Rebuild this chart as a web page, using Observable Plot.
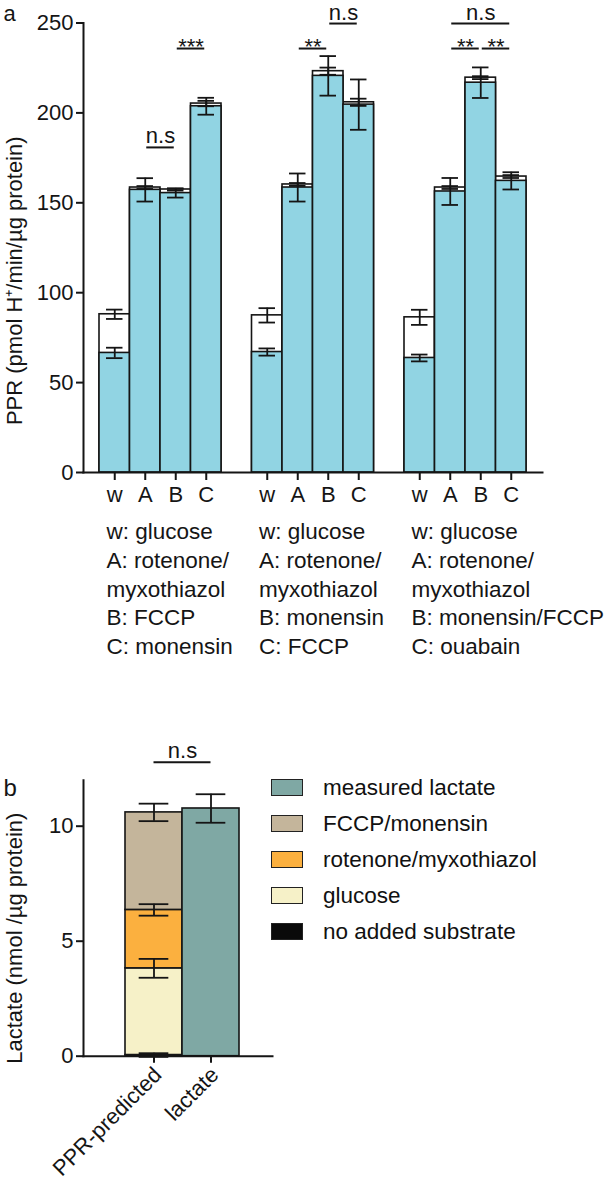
<!DOCTYPE html>
<html>
<head>
<meta charset="utf-8">
<script src="https://cdn.jsdelivr.net/npm/d3@7"></script>
<script src="https://cdn.jsdelivr.net/npm/@observablehq/plot@0.6"></script>
<style>
  html, body { margin: 0; padding: 0; background: #fff; }
  #root { position: relative; width: 606px; height: 1185px; overflow: hidden;
          font-family: "Liberation Sans", Arial, Helvetica, sans-serif; color: #111; }
  #pa { position: absolute; left: 0; top: 0; }
  #pb { position: absolute; left: 0; top: 730px; }
  .sw { position: absolute; left: 271px; width: 30px; height: 15px; border: 1.5px solid #222; }
  .lt { position: absolute; left: 323px; font-size: 22.5px; line-height: 18px; white-space: nowrap; }
</style>
</head>
<body>
<div id="root">
  <div id="pa"></div>
  <div id="pb"></div>
  <div id="legend"></div>
</div>
<script>
// ---------------- Panel a data ----------------
const groupNames = ["1", "2", "3"];
const barLetters = ["w", "A", "B", "C"];
// blue (lower) segment values, per group then letter
const blueValues  = [66.5, 157.2, 155.4, 203.7,   67.0, 158.5, 220.6, 204.6,   63.7, 156.3, 216.8, 162.2];
// total bar height (blue + white top)
const totalValues = [88.0, 158.5, 157.4, 205.2,   87.4, 160.2, 223.2, 205.9,   86.3, 158.5, 219.6, 164.6];
const blueErrors  = [2.9, 6.5, 2.5, 4.7,   2.0, 7.8, 11.0, 14.0,   1.9, 7.5, 8.5, 4.8];
const totalErrors = [2.6, 0.8, 0.6, 1.5,   4.0, 0.8, 2.0, 2.0,   4.2, 0.8, 0.8, 0.8];
const yTicksA = [0, 50, 100, 150, 200, 250];
const yTitleA = "PPR (pmol H\u207A/min/\u00B5g protein)";
const groupNotes = [
  "w: glucose\nA: rotenone/\nmyxothiazol\nB: FCCP\nC: monensin",
  "w: glucose\nA: rotenone/\nmyxothiazol\nB: monensin\nC: FCCP",
  "w: glucose\nA: rotenone/\nmyxothiazol\nB: monensin/FCCP\nC: ouabain"
];
const sigLabels = ["n.s", "***", "**", "n.s", "n.s", "**", "**"];
const sigStart  = ["1A", "1B", "2A", "2B", "3A", "3A", "3B"];
const sigEnd    = ["1B", "1C", "2B", "2C", "3C", "3B", "3C"];
const sigLevel  = [180.8, 235.8, 235.8, 249.7, 249.7, 235.8, 235.8];

// ---------------- Panel b data ----------------
const barNames = ["PPR-predicted", "lactate"];
const componentNames  = ["no added substrate", "glucose", "rotenone/myxothiazol", "FCCP/monensin"];
const componentValues = [0.05, 3.77, 2.54, 4.24];
const componentErrors = [0.08, 0.41, 0.25, 0.38];
const measuredName  = "measured lactate";
const measuredValue = 10.77;
const measuredError = 0.62;
const yTicksB = [0, 5, 10];
const yTitleB = "Lactate (nmol /\u00B5g protein)";
const sigBLabel = "n.s";
const sigBLevel = 12.78;
const legendOrder = ["measured lactate", "FCCP/monensin", "rotenone/myxothiazol", "glucose", "no added substrate"];

// ---------------- styling ----------------
const FONT = '"Liberation Sans", Arial, Helvetica, sans-serif';
const INK = "#151515";
const BLUE = "#91d4e3";
const colorOf = {
  "measured lactate": "#7fa8a4",
  "FCCP/monensin": "#c4b59b",
  "rotenone/myxothiazol": "#fbb03f",
  "glucose": "#f6f1c8",
  "no added substrate": "#0a0a0a"
};

function errorBars(data, x, y, e, half, sw = 1.8) {
  return [
    Plot.ruleX(data, {x, y1: d => y(d) - e(d), y2: d => y(d) + e(d), stroke: INK, strokeWidth: sw}),
    Plot.ruleY(data, {y: d => y(d) + e(d), x1: d => x(d) - half, x2: d => x(d) + half, stroke: INK, strokeWidth: sw}),
    Plot.ruleY(data, {y: d => y(d) - e(d), x1: d => x(d) - half, x2: d => x(d) + half, stroke: INK, strokeWidth: sw})
  ];
}

// ---------------- Panel a ----------------
const rowsA = [];
const posOf = {};
groupNames.forEach((g, gi) => barLetters.forEach((l, li) => {
  const k = gi * 4 + li;
  const pos = gi * (barLetters.length + 1) + li;
  posOf[g + l] = pos;
  rowsA.push({group: g, letter: l, pos, blue: blueValues[k], total: totalValues[k],
              blueErr: blueErrors[k], totalErr: totalErrors[k]});
}));
const sig = sigLabels.map((s, i) => ({label: s, a: posOf[sigStart[i]], b: posOf[sigEnd[i]], level: sigLevel[i]}));
const isStar = d => d.label.includes("*");

const chartA = Plot.plot({
  width: 606, height: 680,
  marginLeft: 83, marginRight: 64, marginTop: 22.5, marginBottom: 208,
  style: {fontFamily: FONT, fontSize: "22px", color: INK, background: "transparent", overflow: "visible"},
  x: {type: "linear", domain: [-0.5, 13.5], range: [99, 526]},
  y: {domain: [0, 250]},
  marks: [
    Plot.rect(rowsA, {x1: d => d.pos - 0.5, x2: d => d.pos + 0.5, y1: 0, y2: "total", fill: "white", stroke: INK, strokeWidth: 1.6}),
    Plot.rect(rowsA, {x1: d => d.pos - 0.5, x2: d => d.pos + 0.5, y1: 0, y2: "blue", fill: BLUE, stroke: INK, strokeWidth: 1.6}),
    errorBars(rowsA, d => d.pos, d => d.blue, d => d.blueErr, 0.27),
    errorBars(rowsA, d => d.pos, d => d.total, d => d.totalErr, 0.27),
    Plot.frame({anchor: "left", stroke: INK, strokeWidth: 2}),
    Plot.frame({anchor: "bottom", stroke: INK, strokeWidth: 2}),
    Plot.axisY({ticks: yTicksA, tickSize: 7, tickPadding: 3, strokeWidth: 2, label: null, fontSize: 22}),
    Plot.axisX({ticks: rowsA.map(d => d.pos), tickFormat: p => barLetters[p % 5], tickSize: 8, tickPadding: 6, strokeWidth: 2, label: null, fontSize: 22}),
    Plot.text(groupNotes, {x: (d, i) => i * 5 - 0.5, frameAnchor: "bottom", textAnchor: "start", lineAnchor: "top",
      lineHeight: 1.28, dx: 7, dy: 46, fontSize: 22.5, fill: INK}),
    Plot.ruleY(sig, {y: "level", x1: "a", x2: "b", stroke: INK, strokeWidth: 2, insetLeft: 1.5, insetRight: 1.5}),
    Plot.text(sig, {filter: d => !isStar(d), x: d => (d.a + d.b) / 2, y: "level", text: "label", lineAnchor: "bottom", dy: -4, fontSize: 22, fill: INK}),
    Plot.text(sig, {filter: isStar, x: d => (d.a + d.b) / 2, y: "level", text: "label", lineAnchor: "bottom", dy: 5, fontSize: 22, fill: INK}),
    Plot.text([yTitleA], {frameAnchor: "left", rotate: -90, textAnchor: "middle", lineAnchor: "bottom", dx: -62, dy: 33, fontSize: 22, fill: INK}),
    Plot.text(["a"], {frameAnchor: "top-left", textAnchor: "start", lineAnchor: "bottom", dx: -80, dy: -2.5, fontSize: 22, fill: INK})
  ]
});
document.getElementById("pa").appendChild(chartA);

// ---------------- Panel b ----------------
let cum = 0;
const stackRows = componentNames.map((n, i) => {
  const y1 = cum; cum += componentValues[i];
  return {name: n, x: 0, y1, y2: cum, err: componentErrors[i]};
});
const measRows = [{name: measuredName, x: 1, y1: 0, y2: measuredValue, err: measuredError}];

const chartB = Plot.plot({
  width: 606, height: 455,
  marginLeft: 83, marginRight: 334, marginTop: 49.7, marginBottom: 129.3,
  style: {fontFamily: FONT, fontSize: "22px", color: INK, background: "transparent", overflow: "visible"},
  x: {type: "linear", domain: [-0.5, 1.5], range: [125, 239]},
  y: {domain: [0, 12]},
  color: {domain: legendOrder, range: legendOrder.map(n => colorOf[n])},
  marks: [
    Plot.rect(stackRows, {x1: d => d.x - 0.5, x2: d => d.x + 0.5, y1: "y1", y2: "y2", fill: "name", stroke: INK, strokeWidth: 1.6}),
    Plot.rect(measRows, {x1: d => d.x - 0.5, x2: d => d.x + 0.5, y1: "y1", y2: "y2", fill: "name", stroke: INK, strokeWidth: 1.6}),
    errorBars(stackRows, d => d.x, d => d.y2, d => d.err, 0.26),
    errorBars(measRows, d => d.x, d => d.y2, d => d.err, 0.26),
    Plot.frame({anchor: "left", stroke: INK, strokeWidth: 2}),
    Plot.frame({anchor: "bottom", stroke: INK, strokeWidth: 2}),
    Plot.axisY({ticks: yTicksB, tickSize: 7, tickPadding: 3, strokeWidth: 2, label: null, fontSize: 22}),
    Plot.axisX({ticks: [0, 1], tickFormat: () => "", tickSize: 7, strokeWidth: 2, label: null}),
    Plot.axisX({ticks: [0, 1], tickFormat: p => barNames[p], tickSize: 0, tickPadding: 15, tickRotate: -45, dx: 4, label: null, fontSize: 22}),
    Plot.ruleY([sigBLevel], {x1: 0, x2: 1, stroke: INK, strokeWidth: 2}),
    Plot.text([sigBLabel], {x: 0.5, y: sigBLevel, lineAnchor: "bottom", dy: -4, fontSize: 22, fill: INK}),
    Plot.text([yTitleB], {frameAnchor: "left", rotate: -90, textAnchor: "middle", lineAnchor: "bottom", dx: -62, dy: 20, fontSize: 22, fill: INK}),
    Plot.text(["b"], {frameAnchor: "top-left", textAnchor: "start", lineAnchor: "bottom", dx: -80, dy: 15.3, fontSize: 24, fill: INK})
  ]
});
document.getElementById("pb").appendChild(chartB);

// ---------------- Legend (panel b) ----------------
const leg = document.getElementById("legend");
legendOrder.forEach((n, i) => {
  const top = 779 + i * 36;
  const sw = document.createElement("div");
  sw.className = "sw";
  sw.style.top = top + "px";
  sw.style.background = colorOf[n];
  leg.appendChild(sw);
  const t = document.createElement("div");
  t.className = "lt";
  t.style.top = top + "px";
  t.textContent = n;
  leg.appendChild(t);
});
</script>
</body>
</html>
